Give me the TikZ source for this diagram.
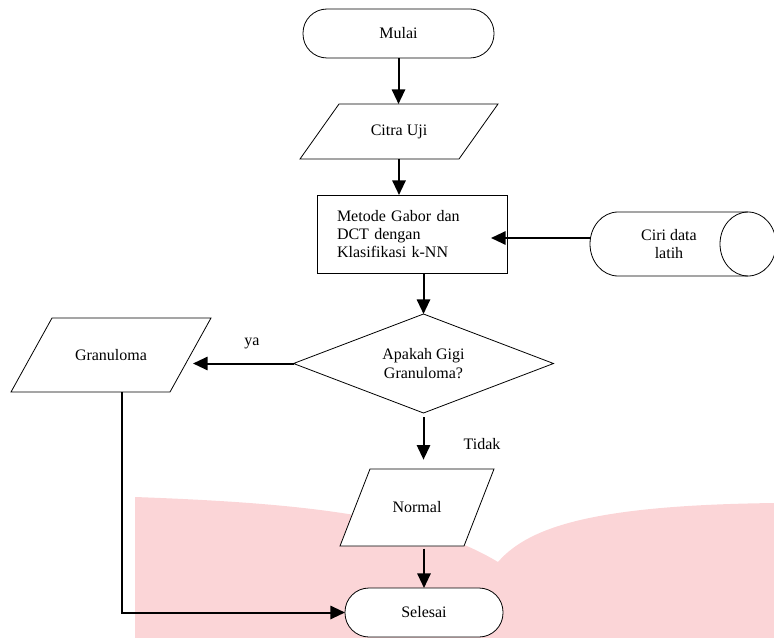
\documentclass[tikz,border=0pt]{standalone}
\usepackage{fontspec}
\setmainfont{Liberation Serif}
\usetikzlibrary{shapes.geometric,arrows.meta,calc,backgrounds}
\definecolor{wmpink}{RGB}{251,213,215}
\begin{document}
\begin{tikzpicture}[x=0.75pt,y=-0.75pt,
  font=\fontsize{12}{13.8}\selectfont,
  every node/.style={inner sep=0pt, outer sep=0pt},
  shapeline/.style={draw=black, line width=0.6pt},
  term/.style={shapeline, fill=white, rounded corners=18pt, minimum height=36.75pt},
  procbox/.style={shapeline, fill=white, text width=112.5pt, inner xsep=15pt, align=left, minimum height=58.5pt},
  decision/.style={shapeline, fill=white, diamond, aspect=2.6, align=center},
  iobox/.style={align=center},
  lbl/.style={},
  arr/.style={line width=1.5pt, -{Triangle[length=11pt,width=10pt]}}
]
\useasboundingbox (0,0) rectangle (774,638);

% nodes
\node[term, minimum width=143.25pt] (mulai) at (398.5,33.5) {Mulai};
\node[iobox, minimum width=148.5pt, minimum height=41.25pt] (citra) at (399,131.5) {Citra Uji};
\node[procbox] (box) at (412,234) {Metode Gabor dan\\DCT dengan\\Klasifikasi k-NN};
\node[iobox, minimum width=118.5pt, minimum height=48pt] (ciri) at (669,244) {Ciri data\\latih};
\node[decision, minimum width=195pt, minimum height=74.25pt] (dia) at (423.5,363.5) {Apakah Gigi\\Granuloma?};
\node[iobox, minimum width=150pt, minimum height=55.5pt] (gran) at (111,355) {Granuloma};
\node[iobox, minimum width=115.5pt, minimum height=57.75pt] (norm) at (417,507.5) {Normal};
\node[term, minimum width=118.5pt] (sel) at (424,612.5) {Selesai};
\node[lbl] (ya) at (252,343) {ya};
\node[lbl] (tidak) at (482,444) {Tidak};

% background: watermark and parallelograms
\begin{pgfonlayer}{background}
  \fill[wmpink] (135,497) .. controls (300,503) and (420,515) .. (498,562)
     .. controls (530,525) and (600,505) .. (776,503) -- (776,640) -- (135,640) -- cycle;
  \draw[shapeline, fill=white] ($(citra.north west)+(39,0)$) -- (citra.north east)
     -- ($(citra.south east)+(-39,0)$) -- (citra.south west) -- cycle;
  \draw[shapeline, fill=white] ($(gran.north west)+(41,0)$) -- (gran.north east)
     -- ($(gran.south east)+(-41,0)$) -- (gran.south west) -- cycle;
  \draw[shapeline, fill=white] ($(norm.north west)+(30,0)$) -- (norm.north east)
     -- ($(norm.south east)+(-30,0)$) -- (norm.south west) -- cycle;
  \draw[shapeline, fill=white] (ciri.north east) -- ($(ciri.north west)+(28,0)$)
     arc[start angle=90, end angle=270, x radius=21pt, y radius=24pt] -- (ciri.south east);
  \draw[shapeline] (ciri.east) ellipse [x radius=21pt, y radius=24pt];
\end{pgfonlayer}

% connectors
\draw[arr] (mulai.south) -- (mulai.south |- citra.north);
\draw[arr] (citra.south) -- (citra.south |- box.north);
\draw[arr] (box.south -| dia.north) -- (dia.north);
\draw[arr] ($(ciri.west)+(0,-6)$) -- ($(ciri.west -| box.east)+(-16,-6)$);
\draw[arr] (dia.west) -- ($(dia.west -| gran.east)+(-18,0)$);
\draw[arr, shorten <=3pt, shorten >=7pt] (dia.south) -- (dia.south |- norm.north);
\draw[arr, shorten <=2pt] (sel.north |- norm.south) -- (sel.north);
\coordinate (gx) at ($(gran.south)+(11,0)$);
\draw[arr] (gx) -- (gx |- sel.west) -- (sel.west);
\end{tikzpicture}
\end{document}
